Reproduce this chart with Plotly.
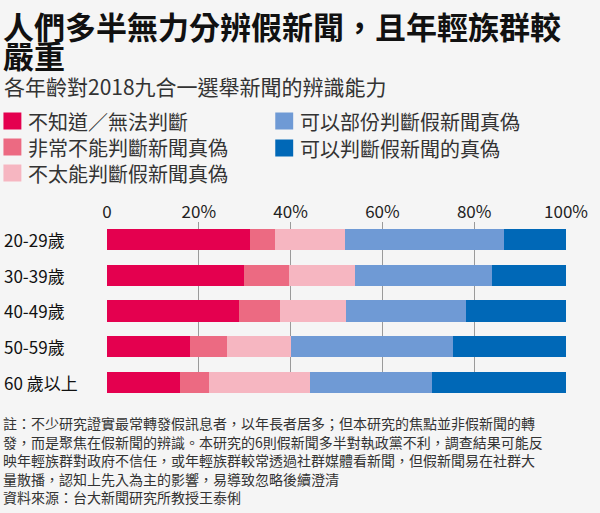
import plotly.graph_objects as go

# data (percent of each age group)
ages = ["20-29歲", "30-39歲", "40-49歲", "50-59歲", "60 歲以上"]
series_names = ["不知道／無法判斷", "非常不能判斷新聞真偽", "不太能判斷假新聞真偽",
                "可以部份判斷假新聞真偽", "可以判斷假新聞的真偽"]
dont_know = [31.2, 29.9, 28.8, 18.1, 15.8]
cannot_at_all = [5.4, 9.7, 8.9, 8.1, 6.5]
barely = [15.3, 14.5, 14.4, 13.9, 22.0]
partly = [34.7, 29.8, 26.1, 35.2, 26.6]
can_tell = [13.4, 16.1, 21.8, 24.7, 29.1]
tick_vals = [0, 20, 40, 60, 80, 100]
tick_text = ["0", "20%", "40%", "60%", "80%", "100%"]

colors = ["#E4004F", "#EC6A82", "#F6B6C1", "#6F9AD5", "#0068B7"]
bg = "#F5F5F5"
cjk = "Noto Sans CJK TC"
narrow = "Liberation Sans Narrow, Noto Sans CJK TC"

fig = go.Figure()
for name, vals, col in zip(series_names, [dont_know, cannot_at_all, barely, partly, can_tell], colors):
    fig.add_trace(go.Bar(y=ages, x=vals, name=name, orientation="h",
                         marker=dict(color=col, line=dict(width=0))))

# plot area in pixels: x 107..568, y 222..393
L, R, T, B = 107, 568, 222, 393
W, H = 600, 513


def px(x):
    return (x - L) / (R - L)


def py(y):
    return (B - y) / (B - T)


anns = []
shapes = []

# title + subtitle
anns.append(dict(text="人們多半無力分辨假新聞，且年輕族群較", x=px(1), y=py(25), xanchor="left", yanchor="middle",
                 font=dict(family=cjk, size=31, color="#111", weight="bold")))
anns.append(dict(text="嚴重", x=px(1), y=py(54), xanchor="left", yanchor="middle",
                 font=dict(family=cjk, size=31, color="#111", weight="bold")))
anns.append(dict(text="各年齡對2018九合一選舉新聞的辨識能力", x=px(2), y=py(86), xanchor="left", yanchor="middle",
                 font=dict(family=cjk, size=21, color="#333")))

# legend, two columns
leg_pos = [(3, 121), (3, 147), (3, 173), (276, 121), (276, 148)]
for name, col, (lx, ly) in zip(series_names, colors, leg_pos):
    shapes.append(dict(type="rect", xref="paper", yref="paper", x0=px(lx), x1=px(lx + 18),
                       y0=py(ly + 8.5), y1=py(ly - 8.5), fillcolor=col, line=dict(width=0)))
    anns.append(dict(text=name, x=px(lx + 23), y=py(ly), xanchor="left", yanchor="middle",
                     font=dict(family=cjk, size=20, color="#333")))

# row labels
for a in ages:
    anns.append(dict(text=a, x=px(2), xref="paper", y=a, yref="y", xanchor="left", yanchor="middle",
                     font=dict(family=narrow, size=17, color="#111")))

# footnote
notes = [
    "註：不少研究證實最常轉發假訊息者，以年長者居多；但本研究的焦點並非假新聞的轉",
    "發，而是聚焦在假新聞的辨識。本研究的6則假新聞多半對執政黨不利，調查結果可能反",
    "映年輕族群對政府不信任，或年輕族群較常透過社群媒體看新聞，但假新聞易在社群大",
    "量散播，認知上先入為主的影響，易導致忽略後續澄清",
    "資料來源：台大新聞研究所教授王泰俐",
]
for i, line in enumerate(notes):
    anns.append(dict(text=line, x=px(1), y=py(423 + i * 18.5), xanchor="left", yanchor="middle",
                     font=dict(family=cjk, size=14, color="#333")))

for a in anns:
    a.setdefault("xref", "paper")
    a.setdefault("yref", "paper")
    a["showarrow"] = False

fig.update_layout(
    barmode="stack",
    bargap=0.41,
    width=W, height=H,
    margin=dict(l=L, r=W - R, t=T, b=H - B, pad=0),
    paper_bgcolor=bg, plot_bgcolor=bg,
    showlegend=False,
    annotations=anns,
    shapes=shapes,
    xaxis=dict(range=[0, 100], side="top", tickvals=tick_vals, ticktext=tick_text,
               showgrid=True, gridcolor="#9A9A9A", gridwidth=1, zeroline=False,
               showline=False, ticks="", ticklen=0,
               tickfont=dict(family=narrow, size=17, color="#222"), fixedrange=True),
    yaxis=dict(range=[4.295, -0.49], showticklabels=False, showgrid=False,
               zeroline=False, showline=False, fixedrange=True),
)

# drop the default page margin so the figure fills the window exactly
fig.write_html("out.html", config={"displayModeBar": False},
               post_script="document.body.style.margin='0';")
